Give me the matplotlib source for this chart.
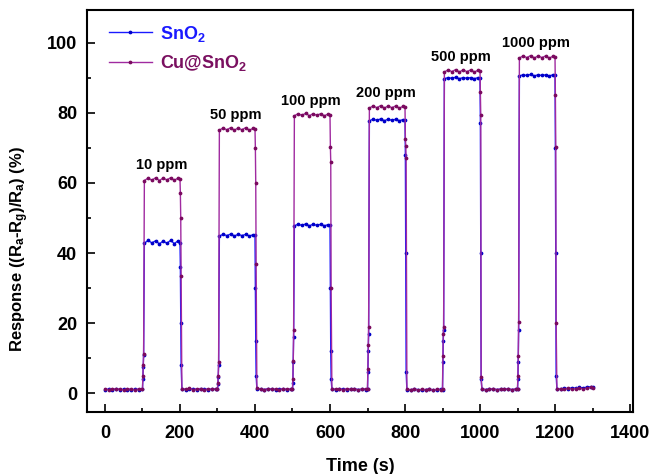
import matplotlib
matplotlib.use("Agg")
import matplotlib.pyplot as plt
from matplotlib.ticker import MultipleLocator

plt.rcParams['font.family'] = ['Liberation Sans', 'DejaVu Sans']
plt.rcParams['font.weight'] = 'bold'
plt.rcParams['mathtext.fontset'] = 'custom'
plt.rcParams['mathtext.rm'] = 'Liberation Sans:bold'
plt.rcParams['mathtext.it'] = 'Liberation Sans:bold'
plt.rcParams['mathtext.bf'] = 'Liberation Sans:bold'
plt.rcParams['mathtext.default'] = 'rm'

# ---- data ----
time = [0, 10, 20, 30, 40, 50, 60, 70, 80, 90, 100,
        101, 102, 103, 105, 115, 125, 135, 145, 155, 165, 175, 185, 195, 200,
        201, 202, 203, 205, 215, 225, 235, 245, 255, 265, 275, 285, 295, 300,
        301, 302, 303, 305, 315, 325, 335, 345, 355, 365, 375, 385, 395, 400,
        401, 402, 403, 405, 415, 425, 435, 445, 455, 465, 475, 485, 495, 500,
        501, 502, 503, 505, 515, 525, 535, 545, 555, 565, 575, 585, 595, 600,
        601, 602, 603, 605, 615, 625, 635, 645, 655, 665, 675, 685, 695, 700,
        701, 702, 703, 705, 715, 725, 735, 745, 755, 765, 775, 785, 795, 800,
        801, 802, 803, 805, 815, 825, 835, 845, 855, 865, 875, 885, 895, 900,
        901, 902, 903, 905, 915, 925, 935, 945, 955, 965, 975, 985, 995, 1000,
        1001, 1002, 1003, 1005, 1015, 1025, 1035, 1045, 1055, 1065, 1075, 1085, 1095, 1100,
        1101, 1102, 1103, 1105, 1115, 1125, 1135, 1145, 1155, 1165, 1175, 1185, 1195, 1200,
        1201, 1202, 1203, 1205, 1215, 1225, 1235, 1245, 1255, 1265, 1275, 1285, 1295, 1300]

sno2 = [1.0, 1.1, 0.9, 1.2, 1.0, 1.1, 1.0, 0.9, 1.1, 1.0, 1.1,
        4.0, 7.4, 10.8, 42.8, 43.6, 42.9, 43.5, 42.6, 43.4, 42.8, 43.6, 42.7, 43.5, 43.0,
        36.0, 20.0, 8.0, 1.2, 1.0, 1.1, 1.3, 1.0, 1.1, 1.2, 1.0, 1.1, 1.2, 1.1,
        2.5, 4.5, 8.0, 44.9, 45.3, 45.0, 45.4, 44.9, 45.3, 45.0, 45.3, 44.9, 45.2, 45.1,
        30.0, 15.0, 5.0, 1.2, 1.1, 1.0, 1.2, 1.1, 1.0, 1.2, 1.1, 1.0, 1.1, 1.2,
        3.0, 9.0, 16.0, 47.8, 48.2, 47.9, 48.3, 47.8, 48.2, 47.9, 48.2, 47.8, 48.1, 48.0,
        30.0, 12.0, 4.0, 1.1, 1.0, 1.2, 1.1, 1.0, 1.1, 1.2, 1.0, 1.1, 1.0, 1.1,
        6.0, 12.0, 17.0, 77.8, 78.2, 77.9, 78.3, 77.8, 78.2, 77.9, 78.2, 77.8, 78.1, 78.0,
        68.0, 40.0, 6.0, 1.0, 0.9, 1.1, 1.0, 0.9, 1.0, 1.1, 0.9, 1.0, 1.1, 1.0,
        9.0, 15.0, 18.0, 89.8, 90.1, 89.9, 90.2, 89.8, 90.1, 89.9, 90.1, 89.8, 90.1, 90.0,
        77.0, 40.0, 4.0, 1.1, 1.0, 1.2, 1.1, 1.0, 1.1, 1.2, 1.1, 1.0, 1.1, 1.2,
        4.0, 9.0, 18.0, 90.6, 90.9, 90.7, 91.0, 90.6, 90.9, 90.7, 90.9, 90.6, 90.9, 90.8,
        70.0, 40.0, 5.0, 1.3, 1.2, 1.4, 1.3, 1.5, 1.4, 1.6, 1.5, 1.7, 1.8, 1.7]

cu_sno2 = [1.2, 1.0, 1.3, 1.1, 1.2, 0.9, 1.3, 1.1, 1.0, 1.2, 1.3,
           5.0, 8.0, 11.3, 60.7, 61.4, 60.8, 61.5, 60.7, 61.4, 60.9, 61.5, 60.8, 61.4, 61.0,
           57.0, 50.0, 33.3, 1.3, 1.1, 1.4, 1.0, 1.2, 1.3, 1.0, 1.2, 1.1, 1.3, 1.2,
           3.0, 5.0, 9.0, 75.1, 75.7, 75.2, 75.8, 75.1, 75.7, 75.2, 75.8, 75.1, 75.6, 75.3,
           70.0, 60.0, 37.0, 1.4, 1.2, 1.0, 1.3, 1.1, 1.2, 1.0, 1.3, 1.1, 1.2, 1.3,
           4.0, 9.3, 17.9, 79.2, 79.8, 79.3, 79.9, 79.2, 79.8, 79.3, 79.8, 79.2, 79.7, 79.4,
           70.4, 66.1, 30.0, 1.3, 1.1, 1.2, 1.0, 1.3, 1.1, 1.2, 1.0, 1.1, 1.3, 1.2,
           7.0, 13.6, 19.0, 81.4, 82.0, 81.5, 82.1, 81.4, 82.0, 81.5, 82.0, 81.4, 81.9, 81.6,
           72.7, 70.7, 67.0, 1.1, 1.0, 1.2, 0.9, 1.1, 1.0, 1.2, 0.9, 1.1, 1.0, 1.2,
           10.7, 17.0, 19.0, 91.7, 92.3, 91.8, 92.4, 91.7, 92.3, 91.8, 92.3, 91.7, 92.2, 91.9,
           86.0, 79.3, 4.7, 1.2, 1.0, 1.1, 1.3, 1.0, 1.2, 1.1, 1.3, 1.0, 1.2, 1.3,
           5.0, 10.7, 20.4, 95.7, 96.3, 95.8, 96.4, 95.7, 96.3, 95.8, 96.3, 95.7, 96.2, 95.9,
           85.0, 70.4, 20.0, 1.2, 1.3, 1.1, 1.4, 1.2, 1.3, 1.5, 1.2, 1.4, 1.6, 1.5]

gas_labels = ['10 ppm', '50 ppm', '100 ppm', '200 ppm', '500 ppm', '1000 ppm']
gas_centers = [150, 350, 550, 750, 950, 1150]
gas_levels = [61.5, 75.8, 79.9, 82.1, 92.4, 96.4]

blue_line = '#1a1aff'
blue_mark = '#0000c8'
purp_line = '#a02aa0'
purp_mark = '#7a0a5e'

fig = plt.figure(figsize=(6.57, 4.74), dpi=100)
ax = fig.add_axes([0.1324, 0.1308, 0.8311, 0.8481])

ax.plot(time, sno2, color=blue_line, lw=1.0, marker='o', ms=1.7,
        mfc=blue_mark, mec=blue_mark, label='SnO$_2$')
ax.plot(time, cu_sno2, color=purp_line, lw=1.0, marker='o', ms=1.7,
        mfc=purp_mark, mec=purp_mark, label='Cu@SnO$_2$')

for lab, xc, lv in zip(gas_labels, gas_centers, gas_levels):
    ax.text(xc, lv + 1.6, lab, ha='center', va='bottom', fontsize=10.5,
            fontweight='bold', color='black')

ax.set_xlim(-48, 1408)
ax.set_ylim(-5.4, 109.4)
ax.xaxis.set_major_locator(MultipleLocator(200))
ax.xaxis.set_minor_locator(MultipleLocator(100))
ax.yaxis.set_major_locator(MultipleLocator(20))
ax.yaxis.set_minor_locator(MultipleLocator(10))
ax.tick_params(which='both', direction='in', top=False, right=False,
               labelsize=13, width=1.2)
ax.tick_params(axis='x', which='major', pad=9)
ax.tick_params(axis='y', which='major', pad=7)
ax.tick_params(which='major', length=6)
ax.tick_params(which='minor', length=3)
for lbl in ax.get_xticklabels() + ax.get_yticklabels():
    lbl.set_fontweight('bold')
for sp in ax.spines.values():
    sp.set_linewidth(1.5)

ax.set_xlabel('Time (s)', fontsize=13, fontweight='bold', labelpad=12)
ax.set_ylabel('Response ((R$_a$-R$_g$)/R$_a$) (%)', fontsize=12,
              fontweight='bold')
ax.yaxis.set_label_coords(-0.103, 0.405)

leg = ax.legend(loc='upper left', bbox_to_anchor=(0.015, 1.0), frameon=False,
                fontsize=13, handlelength=2.4, labelspacing=0.55,
                borderaxespad=0.35, handletextpad=0.45)
for txt, c in zip(leg.get_texts(), ['#1a1aff', '#7a1060']):
    txt.set_color(c)
    txt.set_fontweight('bold')

fig.savefig('out.png', dpi=100, facecolor='white')
